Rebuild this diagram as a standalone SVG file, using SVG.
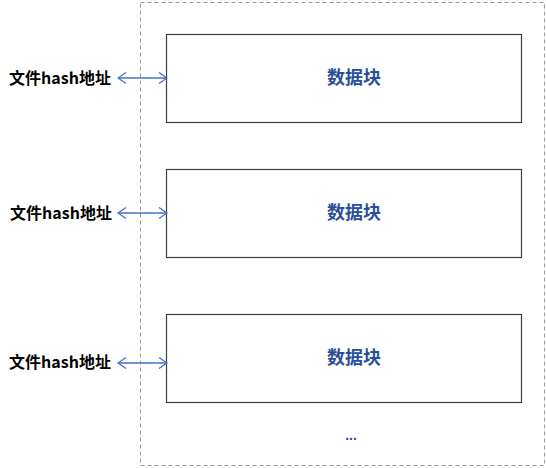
<svg xmlns="http://www.w3.org/2000/svg" width="546" height="468" viewBox="0 0 546 468">
<style>
.box{fill:#fff;stroke:#404040;stroke-width:1.2}
.lbl{font-family:"Noto Sans CJK SC","Liberation Sans",sans-serif;font-weight:bold;font-size:16px;fill:#000}
.blk{font-family:"Noto Sans CJK SC",sans-serif;font-weight:bold;font-size:18px;fill:#2A4F9A}
.arr{stroke:#4472C4;stroke-width:1.3;fill:none}
</style>
<defs>
<marker id="ah" viewBox="0 0 10 12" refX="9" refY="6" markerWidth="10" markerHeight="12" markerUnits="userSpaceOnUse" orient="auto-start-reverse">
<path d="M1,0.5 L9,6 L1,11.5" fill="none" stroke="#4472C4" stroke-width="1.3"/>
</marker>
</defs>
<rect id="container" x="140.5" y="2.5" width="404" height="463" fill="none" stroke="#999" stroke-dasharray="4,3"/>
<g id="block1"><rect class="box" x="166.5" y="34.5" width="355" height="88"/><text class="blk" x="354" y="84" text-anchor="middle">数据块</text></g>
<g id="block2"><rect class="box" x="166.5" y="169.5" width="355" height="88"/><text class="blk" x="354" y="219" text-anchor="middle">数据块</text></g>
<g id="block3"><rect class="box" x="166.5" y="314.5" width="355" height="88"/><text class="blk" x="354" y="364" text-anchor="middle">数据块</text></g>
<g id="label1"><text class="lbl" x="60" y="84" text-anchor="middle">文件hash地址</text></g>
<g id="label2"><text class="lbl" x="61" y="219" text-anchor="middle">文件hash地址</text></g>
<g id="label3"><text class="lbl" x="60" y="368" text-anchor="middle">文件hash地址</text></g>
<g id="ellipsis"><text x="351" y="440" text-anchor="middle" font-family="Liberation Sans,sans-serif" font-weight="bold" font-size="14" fill="#2A4F9A">...</text></g>
<g id="connectors">
<line class="arr" x1="118" y1="78" x2="167" y2="78" marker-start="url(#ah)" marker-end="url(#ah)"/>
<line class="arr" x1="118" y1="213" x2="167" y2="213" marker-start="url(#ah)" marker-end="url(#ah)"/>
<line class="arr" x1="118" y1="363" x2="167" y2="363" marker-start="url(#ah)" marker-end="url(#ah)"/>
</g>
</svg>
